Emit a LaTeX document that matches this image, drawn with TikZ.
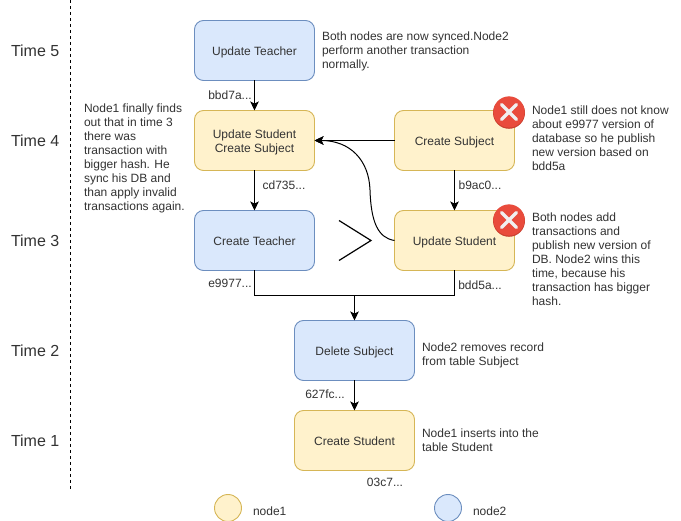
\documentclass[tikz,border=0pt]{standalone}
\usepackage{fontspec}
\setmainfont{Liberation Sans}
\usetikzlibrary{arrows.meta}
\definecolor{yfill}{HTML}{FFF2CC}
\definecolor{ydraw}{HTML}{D6B656}
\definecolor{bfill}{HTML}{DAE8FC}
\definecolor{bdraw}{HTML}{6C8EBF}
\definecolor{txt}{HTML}{333333}
\definecolor{xred}{HTML}{E94B3C}
\definecolor{xdark}{HTML}{C9402F}
\tikzset{
 x=1pt,y=-1pt,
 every node/.style={text=txt,font=\fontsize{12}{14}\selectfont,inner sep=0pt,outer sep=0pt},
 boxbase/.style={rounded corners=9pt,minimum width=120pt,minimum height=60pt,align=center,line width=0.9pt,text height=12pt,text depth=2pt},
 ybox/.style={boxbase,draw=ydraw,fill=yfill},
 bbox/.style={boxbase,draw=bdraw,fill=bfill},
 twoline/.style={text height=26pt,text depth=2pt},
 ycirc/.style={circle,draw=ydraw,fill=yfill,minimum size=27pt,line width=0.9pt},
 bcirc/.style={circle,draw=bdraw,fill=bfill,minimum size=27pt,line width=0.9pt},
 note/.style={anchor=north west,align=left},
 hash/.style={anchor=center},
 timelabel/.style={font=\fontsize{16}{18}\selectfont,anchor=west},
 conn/.style={draw=black,line width=1pt,-{Stealth[length=9pt,width=8.5pt,inset=2pt]}},
 plainconn/.style={draw=black,line width=1pt},
}
\newcommand{\failmark}[2]{%
 \fill[xdark] (#1,#2+0.8) circle (16pt);
 \fill[xred] (#1,#2) circle (15.6pt);
 \draw[white!94!black,line width=3.4pt,line cap=round] (#1-7.5,#2-7.5) -- (#1+7.5,#2+7.5) (#1-7.5,#2+7.5) -- (#1+7.5,#2-7.5);
}
\begin{document}
\begin{tikzpicture}
\useasboundingbox (0,0) rectangle (681,521);
\fill[white] (0,0) rectangle (681,521);
\coordinate (dtop) at (70.5,0);
\coordinate (dbot) at (70.5,490);
\draw[black,line width=0.8pt,dash pattern=on 3pt off 3pt] (dtop) -- (dbot);
\node[timelabel] (t5) at (11,51) {Time 5};
\node[timelabel] (t4) at (11,141) {Time 4};
\node[timelabel] (t3) at (11,241) {Time 3};
\node[timelabel] (t2) at (11,351) {Time 2};
\node[timelabel] (t1) at (11,441) {Time 1};
\node[bbox] (ut) at (254.5,50.5) {Update Teacher};
\node[ybox,twoline] (us) at (254.5,140.5) {Update Student\\Create Subject};
\node[ybox] (cs) at (454.5,140.5) {Create Subject};
\node[bbox] (ct) at (254.5,240.5) {Create Teacher};
\node[ybox] (us2) at (454.5,240.5) {Update Student};
\node[bbox] (ds) at (354.5,350.5) {Delete Subject};
\node[ybox] (cst) at (354.5,440.5) {Create Student};
\coordinate (join) at (354.5,295.5);
\draw[conn] (ut) -- (us);
\draw[conn] (us) -- (ct);
\draw[conn] (cs) -- (us2);
\draw[conn] (cs) -- (us);
\draw[conn] (us2.west) .. controls (378,238) and (371,222) .. (370,190) .. controls (369,160) and (350,140.5) .. (us.east);
\draw[plainconn] (ct.south) |- (join);
\draw[plainconn] (us2.south) |- (join);
\draw[conn] (join) -- (ds);
\draw[conn] (ds) -- (cst);
\coordinate (gta) at (339,220.5);
\coordinate (gtb) at (371,240.5);
\coordinate (gtc) at (339,260.5);
\draw[black,line width=1.2pt] (gta) -- (gtb) -- (gtc);
\failmark{509}{112}
\failmark{509}{220}
\node[hash] (h1) at (230,95) {bbd7a...};
\node[hash] (h2) at (284,185) {cd735...};
\node[hash] (h3) at (480,185) {b9ac0...};
\node[hash] (h4) at (230,283) {e9977...};
\node[hash] (h5) at (480,285) {bdd5a...};
\node[hash] (h6) at (325,394) {627fc...};
\node[hash] (h7) at (385,482) {03c7...};
\node[note] (n1) at (322,32) {Both nodes are now synced.Node2\\perform another transaction\\normally.};
\node[note] (n2) at (84,104) {Node1 finally finds\\out that in time 3\\there was\\transaction with\\bigger hash. He\\sync his DB and\\than apply invalid\\transactions again.};
\node[note] (n3) at (532,106) {Node1 still does not know\\about e9977 version of\\database so he publish\\new version based on\\bdd5a};
\node[note] (n4) at (532,213) {Both nodes add\\transactions and\\publish new version of\\DB. Node2 wins this\\time, because his\\transaction has bigger\\hash.};
\node[note] (n5) at (422,343) {Node2 removes record\\from table Subject};
\node[note] (n6) at (422,429) {Node1 inserts into the\\table Student};
\node[ycirc] (l1) at (228,508) {};
\node[bcirc] (l2) at (448,508) {};
\node[anchor=west] (l1t) at (253,511) {node1};
\node[anchor=west] (l2t) at (473,511) {node2};
\end{tikzpicture}
\end{document}
